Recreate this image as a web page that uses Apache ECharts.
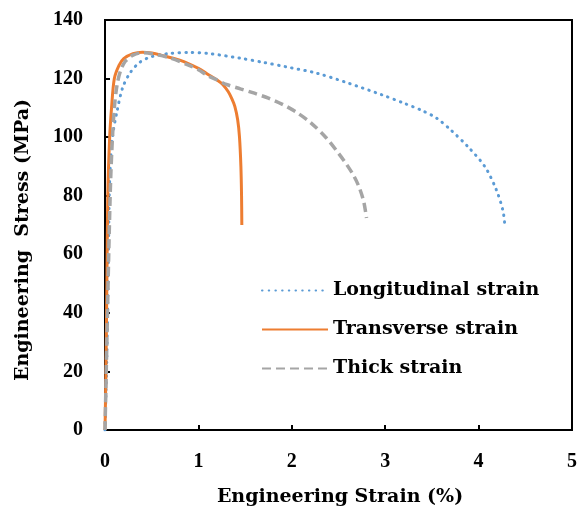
<!DOCTYPE html>
<html><head><meta charset="utf-8">
<script src="https://cdn.jsdelivr.net/npm/echarts@6/dist/echarts.min.js"></script>
<style>html,body{margin:0;padding:0;background:#fff}#c{width:580px;height:511px}</style>
</head><body><div id="c"></div>
<script>
const seriesNames = ['Longitudinal strain', 'Transverse strain', 'Thick strain'];
const xTitle = 'Engineering Strain (%)';
const yTitle = 'Engineering  Stress (MPa)';
const longitudinal = [[0,0],[0.02,25],[0.035,55],[0.05,85],[0.08,100],[0.13,109],[0.19,117],[0.27,122],[0.37,125.5],[0.5,127.5],[0.7,128.6],[0.9,128.9],[1.1,128.6],[1.44,127],[1.7,125.5],[1.94,124],[2.26,121.9],[2.6,118.5],[2.96,114.5],[3.2,111.6],[3.4,109],[3.55,106.5],[3.7,102.5],[3.89,96.6],[4.07,89.8],[4.19,82],[4.26,75],[4.28,70.3]];
const transverse = [[0,0],[0.01,20],[0.02,50],[0.03,80],[0.05,100],[0.07,110],[0.1,120],[0.15,124.5],[0.2,126.8],[0.3,128.5],[0.4,129],[0.5,128.7],[0.6,128],[0.8,126.3],[1.0,123.5],[1.1,121.5],[1.2,119.5],[1.26,118],[1.32,115.5],[1.36,113],[1.39,110.5],[1.42,106],[1.44,100],[1.455,90],[1.462,80],[1.465,70]];
const thick = [[0,0],[0.02,30],[0.04,60],[0.06,85],[0.08,100],[0.1,110],[0.13,118],[0.17,123],[0.22,126],[0.3,128],[0.4,128.8],[0.5,128.5],[0.7,127],[0.9,124.5],[1.0,123],[1.1,121],[1.2,119.5],[1.3,118],[1.45,116.5],[1.6,115],[1.75,113.3],[1.9,111.2],[2.05,108.5],[2.2,105],[2.37,99.7],[2.5,94.5],[2.58,91],[2.66,87],[2.72,83],[2.77,78],[2.8,72.4]];
const xTicks = {min:0, max:5, interval:1};
const yTicks = {min:0, max:140, interval:20};

const chart = echarts.init(document.getElementById('c'));
const baseFont = '"Liberation Serif", "Times New Roman", serif';
const font = '"DejaVu Serif", "Liberation Serif", serif';
chart.setOption({
  animation: false,
  textStyle: {fontFamily: baseFont},
  grid: {left:105, right:6, top:20, bottom:81, show:true, borderColor:'#000', borderWidth:2},
  legend: {
    orient:'vertical', left:256, top:276, itemWidth:66, itemHeight:14, itemGap:20,
    itemStyle:{opacity:0},
    textStyle:{fontFamily:font, fontWeight:'bold', fontSize:19, color:'#000'},
    data: seriesNames
  },
  graphic: [
    {type:'text', x:340, y:497, silent:true,
     style:{text:xTitle, fontFamily:font, fontWeight:'bold', fontSize:19, fill:'#000', align:'center', verticalAlign:'middle'}},
    {type:'text', x:23, y:240, rotation:Math.PI/2, silent:true,
     style:{text:yTitle, fontFamily:font, fontWeight:'bold', fontSize:19, fill:'#000', align:'center', verticalAlign:'middle'}}
  ],
  xAxis: {
    type:'value', min:xTicks.min, max:xTicks.max, interval:xTicks.interval,
    axisLine:{lineStyle:{color:'#000', width:2}},
    axisTick:{inside:true, length:5, lineStyle:{color:'#000', width:2}},
    splitLine:{show:false},
    axisLabel:{margin:22, fontFamily:baseFont, fontWeight:'bold', fontSize:20, color:'#000'}
  },
  yAxis: {
    type:'value', min:yTicks.min, max:yTicks.max, interval:yTicks.interval,
    axisLine:{show:true, lineStyle:{color:'#000', width:2}},
    axisTick:{show:true, inside:true, length:5, lineStyle:{color:'#000', width:2}},
    splitLine:{show:false},
    axisLabel:{margin:22, fontFamily:baseFont, fontWeight:'bold', fontSize:20, color:'#000'}
  },
  series: [
    {name:seriesNames[0], type:'line', data:longitudinal, smooth:0.3, symbol:'none',
     lineStyle:{color:'#5B9BD5', width:3, type:[0.5,6.2], cap:'round'}, itemStyle:{color:'#5B9BD5'}},
    {name:seriesNames[1], type:'line', data:transverse, smooth:0.3, symbol:'none',
     lineStyle:{color:'#ED7D31', width:3}, itemStyle:{color:'#ED7D31'}},
    {name:seriesNames[2], type:'line', data:thick, smooth:0.3, symbol:'none',
     lineStyle:{color:'#A5A5A5', width:3.5, type:[9,5]}, itemStyle:{color:'#A5A5A5'}}
  ]
});
</script></body></html>
